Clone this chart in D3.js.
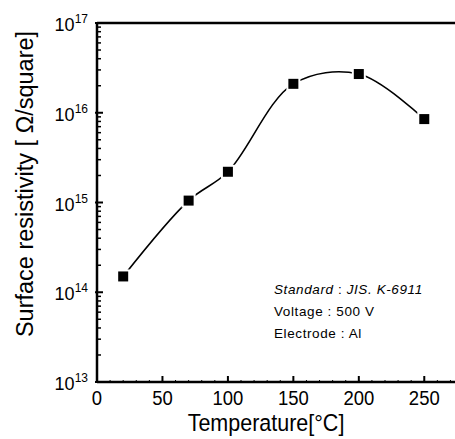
<!DOCTYPE html>
<html>
<head>
<meta charset="utf-8">
<script src="https://cdn.jsdelivr.net/npm/d3@7/dist/d3.min.js"></script>
<style>
  body { margin: 0; background: #fff; }
  svg { display: block; font-family: "Liberation Sans", Arial, sans-serif; }
</style>
</head>
<body>
<svg id="chart" width="455" height="439"></svg>
<script>
  // data
  var temperature = [20, 70, 100, 150, 200, 250];
  var resistivity = [1.5e14, 1.05e15, 2.2e15, 2.1e16, 2.7e16, 8.5e15];
  var xTicks = [0, 50, 100, 150, 200, 250];
  var yExponents = [13, 14, 15, 16, 17];
  var notes = [
    [{t: 'Standard', i: true}, {t: ' : ', i: false}, {t: 'JIS. K-6911', i: true}],
    [{t: 'Voltage : 500 V', i: false}],
    [{t: 'Electrode : Al', i: false}]
  ];

  var svg = d3.select('#chart'),
      margin = {top: 23, right: 0, bottom: 57, left: 97},
      width = 360,
      height = +svg.attr('height') - margin.top - margin.bottom,
      g = svg.append('g').attr('transform', 'translate(' + margin.left + ',' + margin.top + ')');

  var x = d3.scaleLinear().domain([0, 275]).range([0, width]);
  var y = d3.scaleLog().domain([1e13, 1e17]).range([height, 0]);

  // minor ticks on y (inside)
  var minor = [];
  yExponents.slice(0, -1).forEach(function (e) {
    for (var k = 2; k <= 9; k++) minor.push(k * Math.pow(10, e));
  });
  g.selectAll('.ymin').data(minor).enter().append('line')
      .attr('x1', 0).attr('x2', 4)
      .attr('y1', function (d) { return y(d); })
      .attr('y2', function (d) { return y(d); })
      .attr('stroke', '#000').attr('stroke-width', 1.5);
  g.selectAll('.ymaj').data(yExponents).enter().append('line')
      .attr('x1', -2).attr('x2', 6)
      .attr('y1', function (d) { return y(Math.pow(10, d)); })
      .attr('y2', function (d) { return y(Math.pow(10, d)); })
      .attr('stroke', '#000').attr('stroke-width', 2);

  // x ticks (inside)
  g.selectAll('.xmin').data(d3.range(10, 275, 10)).enter().append('line')
      .attr('x1', function (d) { return x(d); })
      .attr('x2', function (d) { return x(d); })
      .attr('y1', height).attr('y2', height - 2)
      .attr('stroke', '#000').attr('stroke-width', 1);
  g.selectAll('.xmaj').data(xTicks.slice(1)).enter().append('line')
      .attr('x1', function (d) { return x(d); })
      .attr('x2', function (d) { return x(d); })
      .attr('y1', height).attr('y2', height - 6)
      .attr('stroke', '#000').attr('stroke-width', 2);

  // frame lines
  g.append('line').attr('x1', 0).attr('x2', 0).attr('y1', 0).attr('y2', height)
      .attr('stroke', '#000').attr('stroke-width', 2.5);
  g.append('line').attr('x1', 0).attr('x2', width).attr('y1', height).attr('y2', height)
      .attr('stroke', '#000').attr('stroke-width', 2.5);
  g.append('line').attr('x1', 0).attr('x2', width).attr('y1', 0).attr('y2', 0)
      .attr('stroke', '#000').attr('stroke-width', 2.5);

  // x tick labels (glyphs are a bit taller than wide in the scan)
  g.selectAll('.xlab').data(xTicks).enter().append('text')
      .attr('transform', function (d) { return 'translate(' + x(d) + ',' + (height + 23) + ') scale(1,1.1)'; })
      .attr('text-anchor', 'middle')
      .style('font-size', '18.5px')
      .text(function (d) { return d; });

  // y tick labels 10^n
  var ylab = g.selectAll('.ylab').data(yExponents).enter().append('text')
      .attr('x', -9)
      .attr('y', function (d) { return y(Math.pow(10, d)) + 8; })
      .attr('text-anchor', 'end')
      .style('font-size', '18px');
  ylab.append('tspan').text('10');
  ylab.append('tspan').attr('dy', -8).style('font-size', '12px').text(function (d) { return d; });

  // axis titles
  svg.append('text')
      .attr('transform', 'translate(33,184) rotate(-90)')
      .attr('text-anchor', 'middle')
      .style('font-size', '23.5px')
      .text('Surface resistivity [ \u03A9/square]');
  svg.append('text')
      .attr('transform', 'translate(266,431) scale(1,1.1)')
      .attr('text-anchor', 'middle')
      .style('font-size', '21.5px')
      .text('Temperature[\u00B0C]');

  // curve
  var pts = temperature.map(function (t, i) { return [t, resistivity[i]]; });
  var line = d3.line()
      .x(function (d) { return x(d[0]); })
      .y(function (d) { return y(d[1]); })
      .curve(d3.curveCatmullRom);
  g.append('path').datum(pts)
      .attr('d', line)
      .attr('fill', 'none').attr('stroke', '#000').attr('stroke-width', 1.6);

  // markers with white halo
  g.selectAll('.halo').data(pts).enter().append('rect')
      .attr('x', function (d) { return x(d[0]) - 7; })
      .attr('y', function (d) { return y(d[1]) - 7; })
      .attr('width', 14).attr('height', 14).attr('fill', '#fff');
  g.selectAll('.mark').data(pts).enter().append('rect')
      .attr('x', function (d) { return x(d[0]) - 5; })
      .attr('y', function (d) { return y(d[1]) - 5; })
      .attr('width', 10).attr('height', 10).attr('fill', '#000');

  // annotation
  var note = svg.append('g').style('font-size', '13.5px').style('letter-spacing', '0.6px');
  notes.forEach(function (parts, i) {
    var t = note.append('text').attr('x', 274).attr('y', 294 + i * 22);
    parts.forEach(function (p) {
      t.append('tspan').style('font-style', p.i ? 'italic' : 'normal').text(p.t);
    });
  });
</script>
</body>
</html>
